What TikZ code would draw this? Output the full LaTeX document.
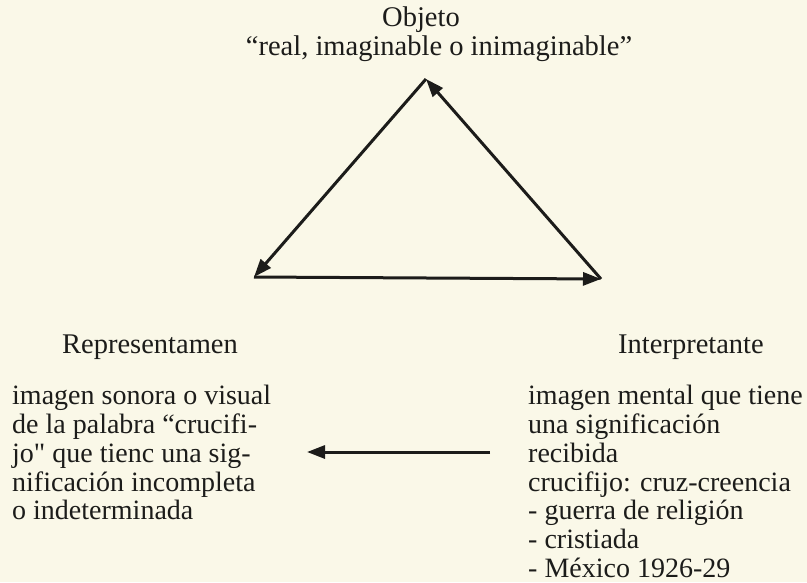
\documentclass[tikz,border=0pt]{standalone}
\usepackage{fontspec}
\setmainfont{Liberation Serif}
\newfontfamily\rawquote{Liberation Serif}[Ligatures=ResetAll]
\usetikzlibrary{positioning,arrows.meta}
\definecolor{paper}{RGB}{250,248,232}
\definecolor{ink}{RGB}{28,28,26}
\tikzset{
  corner/.style = {font=\fontsize{28.5}{31}\selectfont, text=ink, inner sep=0pt},
  gloss/.style  = {font=\fontsize{28}{28.8}\selectfont, text=ink, align=left,
                   inner sep=0pt, anchor=north west},
  arr/.style    = {-{Triangle[length=18pt,width=13pt]}, line width=3pt, draw=ink}
}

\begin{document}
\begin{tikzpicture}[x=1pt,y=-1pt]
    \fill[paper] (0,0) rectangle (807,582);
    \useasboundingbox (0,0) rectangle (807,582);
    \node[corner] (objname) at (421,20) {Objeto};
    \node[corner,below=2pt of objname,xshift=18pt] (objtext){``real, imaginable o inimaginable''};
    \coordinate (obj) at (426,79);
    \coordinate (rep) at (254,277);
    \coordinate (int) at (601,279);
    \draw[arr] (obj)--(rep);
    \draw[arr] (rep)--(int);
    \draw[arr] (int)--(obj);
    \node[corner] (repname) at (150,347) {Representamen};
    \node[corner] (intname) at (691,347) {Interpretante};
    \node[gloss] (repgloss) at (12,385) {imagen sonora o visual\\de la palabra ``crucifi-\\jo{\rawquote"} que tienc una sig-\\nificación incompleta\\o indeterminada};
    \node[gloss] (intgloss) at (528,385) {imagen mental que tiene\\una significación\\recibida\\crucifijo: cruz-creencia\\- guerra de religión\\- cristiada\\- México 1926-29};
    \coordinate (mstart) at (490,452);
    \coordinate (mend) at (307,452);
    \draw[arr] (mstart)--(mend);
  \end{tikzpicture}
\end{document}
